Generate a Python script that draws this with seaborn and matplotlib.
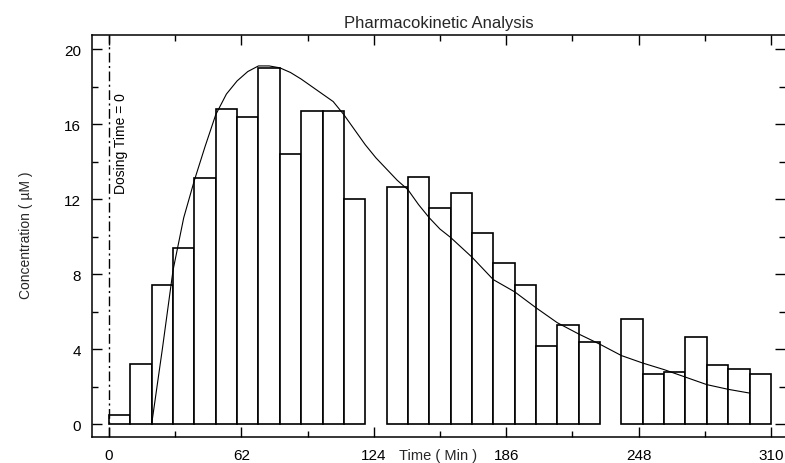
import numpy as np
import pandas as pd
import matplotlib
matplotlib.use("Agg")
import matplotlib.pyplot as plt
import seaborn as sns
from matplotlib.ticker import MultipleLocator, FixedLocator

# ---- data ----
bin_start = [0, 10, 20, 30, 40, 50, 60, 70, 80, 90, 100, 110,
             130, 140, 150, 160, 170, 180, 190, 200, 210, 220,
             240, 250, 260, 270, 280, 290, 300]
bin_conc = [0.5, 3.2, 7.4, 9.4, 13.1, 16.8, 16.4, 19.0, 14.4, 16.7, 16.7, 12.0,
            12.65, 13.2, 11.5, 12.3, 10.2, 8.6, 7.4, 4.15, 5.3, 4.35,
            5.6, 2.65, 2.8, 4.65, 3.15, 2.95, 2.65]

fit_time = [20, 25, 30, 35, 40, 45, 50, 55, 60, 65, 70, 75, 80, 85, 90, 95, 100,
            105, 110, 115, 120, 125, 130, 135, 140, 145, 150, 155, 160, 170, 180,
            190, 200, 210, 220, 230, 240, 250, 260, 270, 280, 290, 300]
fit_conc = [0.0, 4.0, 8.2, 11.0, 13.0, 14.8, 16.5, 17.6, 18.3, 18.8, 19.1, 19.1,
            19.0, 18.75, 18.4, 18.0, 17.6, 17.2, 16.5, 15.7, 14.9, 14.2, 13.6,
            13.0, 12.5, 11.7, 11.0, 10.4, 9.95, 8.9, 7.7, 7.05, 6.2, 5.4, 4.8,
            4.25, 3.65, 3.25, 2.9, 2.5, 2.1, 1.85, 1.65]

x_ticks = [0, 62, 124, 186, 248, 310]
y_ticks = [0, 4, 8, 12, 16, 20]

title = "Pharmacokinetic Analysis"
x_label = "Time ( Min )"
y_label = "Concentration ( \u00b5M )"
dose_label = "Dosing Time = 0"

# ---- style ----
sns.set_style("ticks")
plt.rcParams['font.family'] = ['Liberation Sans', 'DejaVu Sans']
plt.rcParams['axes.linewidth'] = 1.1

fig = plt.figure(figsize=(7.85, 4.64), dpi=100)
ax = fig.add_axes([92/785, 26/464, 1 - 92/785, 402/464])

df_bins = pd.DataFrame({"time": bin_start, "conc": bin_conc})
sns.histplot(data=df_bins, x="time", weights="conc", binwidth=10, binrange=(0, 310),
             stat="count", fill=True, color="white", edgecolor="black",
             linewidth=1.2, alpha=1.0, ax=ax)
for p in list(ax.patches):
    if p.get_height() == 0:
        p.remove()

df_fit = pd.DataFrame({"time": fit_time, "conc": fit_conc})
sns.lineplot(data=df_fit, x="time", y="conc", color="black", linewidth=0.8, ax=ax)

ax.axvline(0, color="black", linewidth=1.0, linestyle=(0, (7, 2.5, 1.5, 2.5)))
ax.text(5.8, 15.0, dose_label, rotation=90, ha="center", va="center",
        fontsize=10, color="black")

ax.set_xlim(-7.95, 316.6)
ax.set_ylim(-0.693, 20.75)
ax.xaxis.set_major_locator(FixedLocator(x_ticks))
ax.xaxis.set_minor_locator(FixedLocator([31, 93, 155, 217, 279]))
ax.yaxis.set_major_locator(FixedLocator(y_ticks))
ax.yaxis.set_minor_locator(MultipleLocator(2))
ax.set_xticklabels([str(v) for v in x_ticks])
ax.set_yticklabels([str(v) for v in y_ticks])

ax.tick_params(which="both", direction="in", top=True, right=True,
               labelsize=11, colors="black", width=1.0)
ax.tick_params(which="major", length=7.5, pad=8)
ax.tick_params(which="minor", length=4.5)
ax.spines["right"].set_visible(False)
for s in ["left", "bottom", "top"]:
    ax.spines[s].set_color("black")

ax.set_title(title, fontsize=12, pad=6)
ax.set_xlabel(x_label, fontsize=10.5)
ax.set_ylabel(y_label, fontsize=10)
ax.xaxis.set_label_coords(0.499, -0.027)
ax.yaxis.set_label_coords(-0.085, 0.505)

fig.savefig("out.png", dpi=100)
